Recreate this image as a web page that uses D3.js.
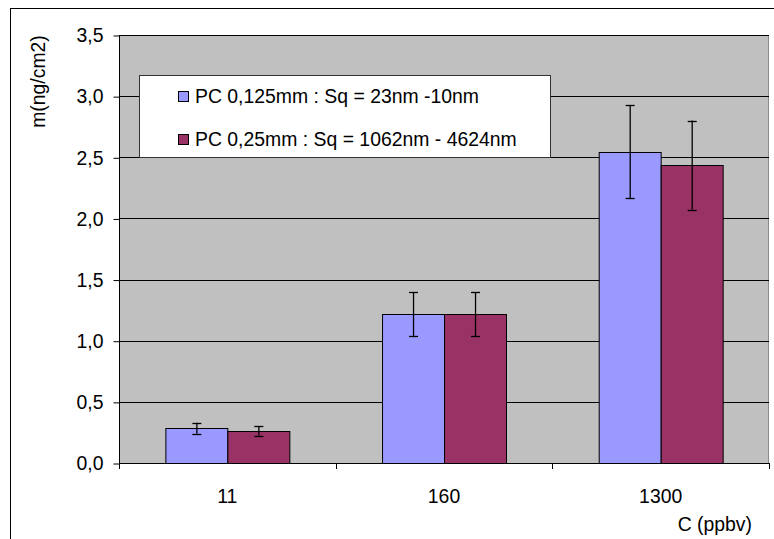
<!DOCTYPE html>
<html>
<head>
<meta charset="utf-8">
<script src="https://cdn.jsdelivr.net/npm/d3@7"></script>
<style>
  html, body { margin: 0; padding: 0; background: #fff; }
  svg { display: block; font-family: Arial, "Liberation Sans", sans-serif; }
</style>
</head>
<body>
<svg id="chart" width="774" height="539"></svg>
<script>
const categories = ["11", "160", "1300"];
const seriesNames = ["PC 0,125mm : Sq = 23nm -10nm", "PC 0,25mm : Sq = 1062nm - 4624nm"];
const series1Values = [0.285, 1.215, 2.545];
const series1Errors = [0.045, 0.18, 0.38];
const series2Values = [0.263, 1.215, 2.435];
const series2Errors = [0.04, 0.18, 0.365];
const yTicks = [0, 0.5, 1.0, 1.5, 2.0, 2.5, 3.0, 3.5];
const yTitle = "m(ng/cm2)";
const xTitle = "C (ppbv)";
const colors = ["#9999FF", "#993366"];

const W = 774, H = 539;
const plot = { left: 119, top: 35, right: 769, bottom: 463 };
const FS = 19.4;

const svg = d3.select("#chart");

// outer frame
svg.append("rect").attr("x", 10.5).attr("y", 8.5).attr("width", W).attr("height", H)
  .attr("fill", "#fff").attr("stroke", "#000").attr("stroke-width", 1);

const x0 = d3.scaleBand().domain(categories).range([plot.left, plot.right])
  .paddingInner(0.428).paddingOuter(0.214);
const x1 = d3.scaleBand().domain([0, 1]).range([0, x0.bandwidth()]);
const y = d3.scaleLinear().domain([0, 3.5]).range([plot.bottom, plot.top]);

// plot area
svg.append("rect").attr("x", plot.left).attr("y", plot.top)
  .attr("width", plot.right - plot.left).attr("height", plot.bottom - plot.top)
  .attr("fill", "#C0C0C0");
svg.append("path")
  .attr("d", `M${plot.left},${plot.top + 0.5}H${plot.right - 0.5}V${plot.bottom}`)
  .attr("fill", "none").attr("stroke", "#8a8a8a");

// gridlines
svg.append("g").selectAll("line").data(yTicks.filter(d => d > 0)).join("line")
  .attr("x1", plot.left).attr("x2", plot.right)
  .attr("y1", d => Math.round(y(d)) + 0.5).attr("y2", d => Math.round(y(d)) + 0.5)
  .attr("stroke", "#000").attr("stroke-width", 1);

// bars
const data = categories.map((c, i) => ({
  cat: c,
  vals: [
    { s: 0, v: series1Values[i], e: series1Errors[i] },
    { s: 1, v: series2Values[i], e: series2Errors[i] }
  ]
}));

const groups = svg.append("g").selectAll("g").data(data).join("g")
  .attr("transform", d => `translate(${x0(d.cat)},0)`);

groups.selectAll("rect").data(d => d.vals).join("rect")
  .attr("x", d => Math.round(x1(d.s)) + 0.5)
  .attr("y", d => Math.round(y(d.v)) + 0.5)
  .attr("width", x1.bandwidth())
  .attr("height", d => Math.round(y(0)) - Math.round(y(d.v)))
  .attr("fill", d => colors[d.s])
  .attr("stroke", "#000").attr("stroke-width", 1);

// error bars
const eb = groups.selectAll("g.err").data(d => d.vals).join("g").attr("class", "err");
eb.append("line")
  .attr("x1", d => Math.round(x1(d.s) + x1.bandwidth() / 2) + 0.5)
  .attr("x2", d => Math.round(x1(d.s) + x1.bandwidth() / 2) + 0.5)
  .attr("y1", d => y(d.v + d.e)).attr("y2", d => y(d.v - d.e))
  .attr("stroke", "#000").attr("stroke-width", 1.3);
[1, -1].forEach(sgn => {
  eb.append("line")
    .attr("x1", d => Math.round(x1(d.s) + x1.bandwidth() / 2) + 0.5 - 4.5)
    .attr("x2", d => Math.round(x1(d.s) + x1.bandwidth() / 2) + 0.5 + 4.5)
    .attr("y1", d => Math.round(y(d.v + sgn * d.e)) + 0.5)
    .attr("y2", d => Math.round(y(d.v + sgn * d.e)) + 0.5)
    .attr("stroke", "#000").attr("stroke-width", 1.3);
});

// y axis
const fmt = d => d3.format(".1f")(d).replace(".", ",");
const yAxis = svg.append("g").attr("transform", `translate(${plot.left + 0.5},0.5)`)
  .call(d3.axisLeft(y).tickValues(yTicks).tickFormat(fmt).tickSize(6).tickSizeOuter(0).tickPadding(10));
yAxis.select(".domain").remove();
yAxis.selectAll(".tick line").attr("stroke", "#000");
yAxis.selectAll("text").attr("font-size", FS).attr("fill", "#000")
  .attr("font-family", "Arial, 'Liberation Sans', sans-serif");
svg.append("line").attr("x1", plot.left + 0.5).attr("x2", plot.left + 0.5)
  .attr("y1", plot.top).attr("y2", plot.bottom + 6).attr("stroke", "#000");

// x axis
svg.append("line").attr("x1", plot.left).attr("x2", plot.right)
  .attr("y1", plot.bottom + 0.5).attr("y2", plot.bottom + 0.5).attr("stroke", "#000");
const bounds = d3.range(categories.length + 1).map(i => plot.left + i * x0.step());
svg.append("g").selectAll("line").data(bounds).join("line")
  .attr("x1", d => Math.round(d) + 0.5).attr("x2", d => Math.round(d) + 0.5)
  .attr("y1", plot.bottom).attr("y2", plot.bottom + 6).attr("stroke", "#000");
svg.append("g").selectAll("text").data(categories).join("text")
  .attr("x", d => x0(d) + x0.bandwidth() / 2).attr("y", 503)
  .attr("text-anchor", "middle").attr("font-size", FS).attr("fill", "#000")
  .text(d => d);

// axis titles
svg.append("text").attr("transform", `translate(45,81.5) rotate(-90)`)
  .attr("text-anchor", "middle").attr("font-size", FS).attr("fill", "#000").text(yTitle);
svg.append("text").attr("x", 752).attr("y", 531)
  .attr("text-anchor", "end").attr("font-size", FS).attr("fill", "#000").text(xTitle);

// legend
const lg = svg.append("g");
lg.append("rect").attr("x", 139.5).attr("y", 75.5).attr("width", 411).attr("height", 82)
  .attr("fill", "#fff").attr("stroke", "#333").attr("stroke-width", 1);
const items = lg.selectAll("g").data(seriesNames).join("g")
  .attr("transform", (d, i) => `translate(0,${i * 43})`);
items.append("rect").attr("x", 178.5).attr("y", 91.5).attr("width", 10).attr("height", 10)
  .attr("fill", (d, i) => colors[i]).attr("stroke", "#000");
items.append("text").attr("x", 195).attr("y", 103.3).attr("font-size", FS).attr("fill", "#000")
  .text(d => d);
</script>
</body>
</html>
